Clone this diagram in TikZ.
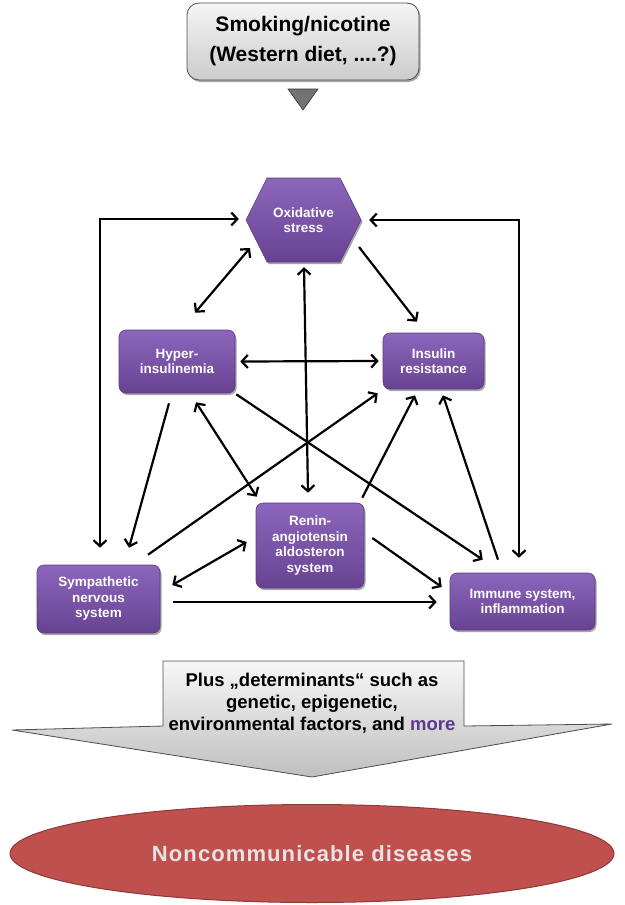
\documentclass[tikz,border=0pt]{standalone}
\usepackage{fontspec}
\setmainfont{Liberation Sans}
\usetikzlibrary{arrows.meta,shadows,shapes.geometric,calc}
\definecolor{ptop}{HTML}{8C66BB}
\definecolor{pbot}{HTML}{684292}
\definecolor{pedge}{HTML}{5B3C82}
\definecolor{morec}{HTML}{5B3A8A}
\definecolor{ncdred}{HTML}{C0504D}
\definecolor{ncdedge}{HTML}{8C3A37}
\definecolor{ncdtext}{HTML}{E4E4E4}
\begin{document}
\begin{tikzpicture}[x=1pt,y=-1pt,
  shad/.style={drop shadow={shadow xshift=1.5pt, shadow yshift=-2pt, opacity=0.35, fill=black}},
  pbox/.style={rectangle, rounded corners=7pt, draw=pedge, line width=0.6pt, top color=ptop, bottom color=pbot, text=white, font=\fontsize{13.5}{15.5}\selectfont\bfseries, align=center, inner sep=2pt, shad},
  con/.style={line width=2.2pt, draw=black},
  one/.style={con, -{Straight Barb[length=6pt,width=13pt]}},
  two/.style={con, {Straight Barb[length=6pt,width=13pt]}-{Straight Barb[length=6pt,width=13pt]}},
]
\useasboundingbox (0,0) rectangle (624,905);

% source box
\node[rectangle, rounded corners=12pt, draw=black!70, line width=0.8pt, top color=black!4, bottom color=black!20,
      minimum width=232pt, minimum height=77pt, align=center, font=\fontsize{21}{30}\selectfont\bfseries, shad]
      (src) at (303,41.5) {Smoking/nicotine\\(Western diet, ....?)};
\filldraw[fill=black!55, draw=black!80, line width=0.6pt] (288,89) -- (318,89) -- (303,110) -- cycle;

% oxidative stress hexagon
\path[draw=pedge, line width=0.6pt, top color=ptop, bottom color=pbot, shad]
  (267,178) -- (340,178) -- (361,220) -- (340,262) -- (267,262) -- (246,220) -- cycle;
\node[minimum width=115pt, minimum height=84pt, text=white, align=center, font=\fontsize{13.5}{15.5}\selectfont\bfseries]
  (ox) at (303.5,220) {Oxidative\\stress};

% nodes
\node[pbox, minimum width=116pt, minimum height=63pt] (hyper) at (177,361.5) {Hyper-\\insulinemia};
\node[pbox, minimum width=101pt, minimum height=56pt] (ins) at (433.5,361) {Insulin\\resistance};
\node[pbox, minimum width=108pt, minimum height=85pt] (ren) at (310,545.5) {Renin-\\angiotensin\\aldosteron\\system};
\node[pbox, minimum width=123pt, minimum height=68pt] (sym) at (98.5,599) {Sympathetic\\nervous\\system};
\node[pbox, minimum width=145pt, minimum height=57pt] (imm) at (522.5,601.5) {Immune system,\\inflammation};

% connectors
\draw[two] ($(ox)+(-53.5,28)$) -- ($(hyper.north)+(18,-17)$);
\draw[one] ($(ox)+(55.5,27)$) -- ($(ins.north)+(-16.5,-11)$);
\draw[two] ($(ox.south)+(0.5,5)$) -- ($(ren.north)+(-2,-10)$);
\draw[two] ($(hyper.east)+(5,0)$) -- ($(ins.west)+(-4,0)$);
\draw[one] ($(hyper.south)+(-8,10)$) -- ($(sym.north)+(30.5,-17)$);
\draw[two] ($(hyper.south)+(19,9)$) -- ($(ren.north west)+(1,-6)$);
\draw[one] ($(hyper.south east)+(1,1)$) -- ($(imm.north west)+(33,-13)$);
\draw[one] ($(sym.north)+(49.5,-10)$) -- ($(ins.south west)+(-5,4)$);
\draw[one] ($(ren.north east)+(-2,-5)$) -- ($(ins.south)+(-18.5,6)$);
\draw[one] ($(imm.north)+(-24.5,-13)$) -- ($(ins.south)+(9.5,6)$);
\draw[one] ($(ren.east)+(8,-7.5)$) -- ($(imm.west)+(-8,-14.5)$);
\draw[two] ($(ren.west)+(-9,-3.5)$) -- ($(sym.east)+(12,-14)$);
\draw[one] ($(sym.east)+(13,3)$) -- ($(imm.west)+(-13,0.5)$);
\draw[two] ($(sym.north)+(1.5,-17)$) |- ($(ox.west)+(-7,-1)$);
\draw[two] ($(imm.north)+(-3.5,-15)$) |- ($(ox.east)+(8,0)$);

% big down arrow
\path[draw=black!70, line width=0.8pt, top color=black!3, bottom color=black!25]
  (163,661) -- (464,661) -- (464,726) -- (612,724) -- (312,777) -- (12,730) -- (163,726) -- cycle;
\node[align=center, font=\fontsize{18.5}{22}\selectfont\bfseries] (det) at (312,703)
  {Plus „determinants“ such as\\genetic, epigenetic,\\environmental factors, and \textcolor{morec}{more}};

% outcome ellipse
\node[ellipse, draw=ncdedge, line width=1pt, fill=ncdred, minimum width=604pt, minimum height=98pt, text=ncdtext,
      font=\fontsize{22}{24}\selectfont\bfseries\addfontfeature{LetterSpace=5}]
      (ncd) at (312,853.5) {Noncommunicable diseases};
\end{tikzpicture}
\end{document}
